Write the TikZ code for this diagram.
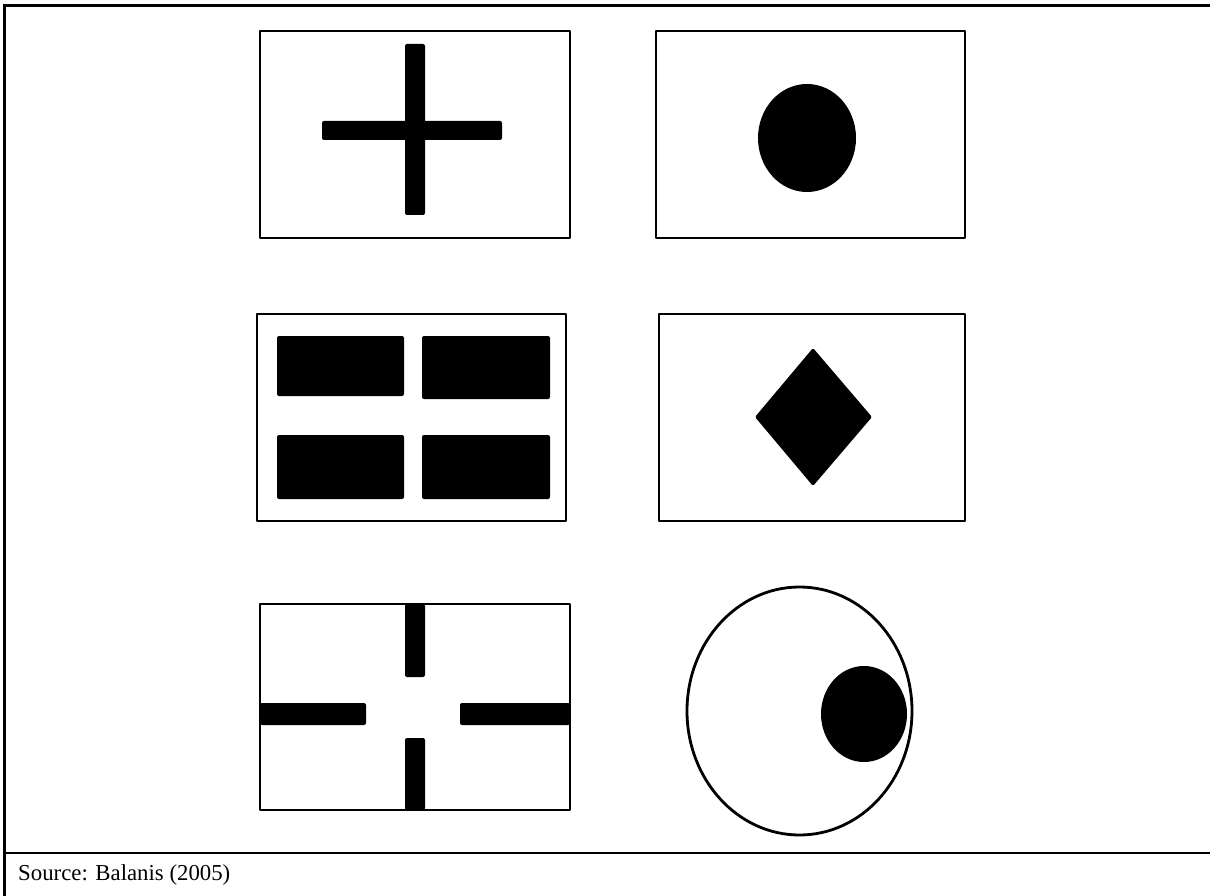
\documentclass[tikz,border=0pt]{standalone}
\usepackage{fontspec}
\setmainfont{Liberation Serif}
\tikzset{
  every picture/.append style={line join=round},
  rule/.style={line width=2.6pt, draw=black},
  patch/.style={rectangle, line width=2.8pt, draw=black},
  blob/.style={fill=black, rounded corners=2pt},
  srcnote/.style={anchor=base west, inner sep=0pt, font=\fontsize{22.8}{27}\selectfont},
}

\begin{document}
\begin{tikzpicture}[x=1pt, y=-1pt]
\useasboundingbox (0,0) rectangle (1210,896);

% table frame
\draw[rule] (4.5,5.5) -- (1210,5.5);
\draw[rule] (4.5,4.5) -- (4.5,896);
\draw[rule] (4.5,853) -- (1210,853);
\node[srcnote] (src) at (18,880) {Source: Balanis (2005)};

% ======================= row 1 =======================
% crossed dipoles
\draw[patch] (260,31) rectangle (570,238);
\fill[blob] (405,44) rectangle (425,215);
\fill[blob] (322,121) rectangle (502,140);
% elliptical patch
\draw[patch] (656,31) rectangle (965,238);
\fill (807,138) ellipse [x radius=49, y radius=54];

% ======================= row 2 =======================
% four rectangular patches
\draw[patch] (257,314) rectangle (566,521);
\fill[blob] (277,336) rectangle (404,396);
\fill[blob] (422,336) rectangle (550,399);
\fill[blob] (277,435) rectangle (404,499);
\fill[blob] (422,435) rectangle (550,499);
% diamond patch
\draw[patch] (659,314) rectangle (965,521);
\fill[rounded corners=1.5pt] (813,348) -- (872,417) -- (813,486) -- (755,417) -- cycle;

% ======================= row 3 =======================
% four stubs from the edges
\draw[patch] (260,604) rectangle (570,810);
\fill[blob] (405,604) rectangle (425,677);
\fill[blob] (405,738) rectangle (425,810);
\fill[blob] (260,703) rectangle (366,725);
\fill[blob] (460,703) rectangle (570,725);
% circular ground with offset disc
\draw[line width=2.8pt] (799.5,711) ellipse [x radius=112.5, y radius=124];
\fill (864,714) ellipse [x radius=43, y radius=48];

\end{tikzpicture}
\end{document}
